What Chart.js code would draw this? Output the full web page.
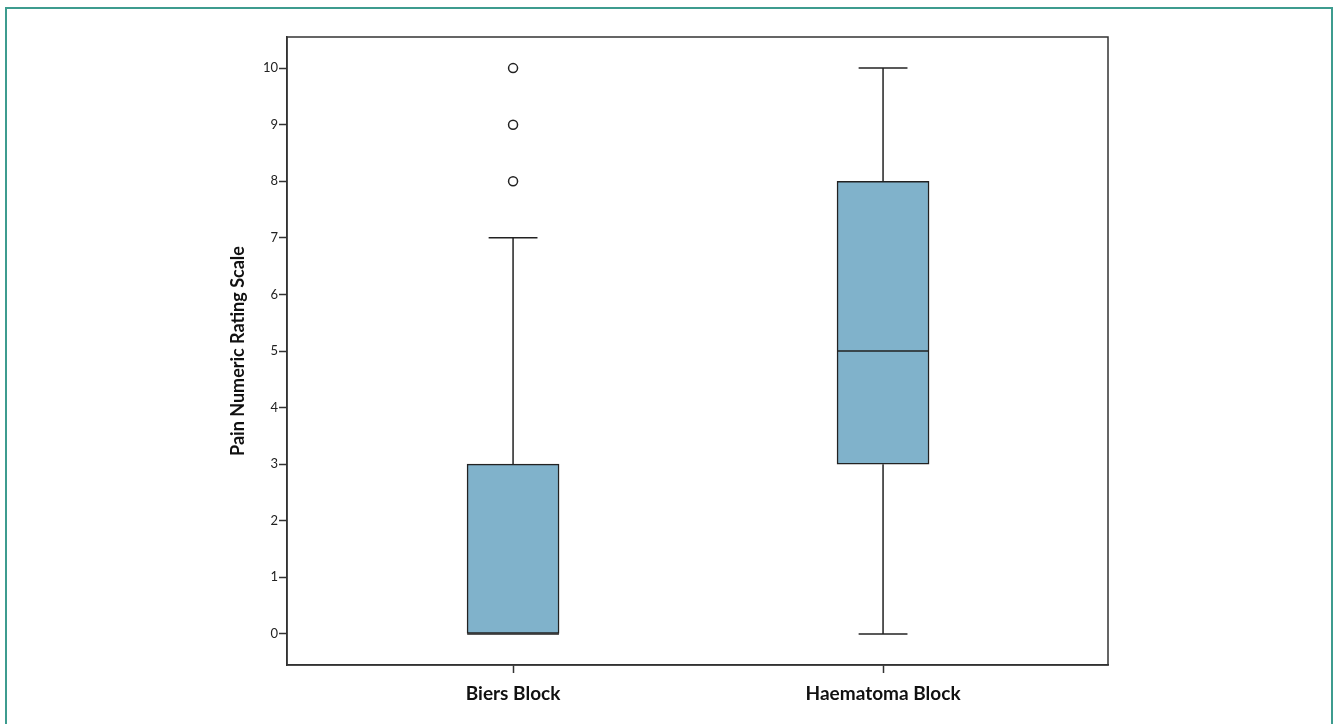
<!DOCTYPE html>
<html>
<head>
<meta charset="utf-8">
<script src="https://cdn.jsdelivr.net/npm/chart.js@4"></script>
<style>
  html, body { margin: 0; padding: 0; background: #fff; }
  #wrap { position: relative; width: 1338px; height: 724px; overflow: hidden; }
  #frame { position: absolute; left: 5px; top: 7px; width: 1328px; height: 740px; border: 2px solid #3d9c8f; box-sizing: border-box; }
  canvas { position: absolute; left: 0; top: 0; }
</style>
</head>
<body>
<div id="wrap">
  <div id="frame"></div>
  <canvas id="myChart" width="1338" height="724"></canvas>
</div>
<script>
// box plot summary per group
const categories = ['Biers Block', 'Haematoma Block'];
const whiskerLow = [0, 0];
const q1 = [0, 3];
const median = [0, 5];
const q3 = [3, 8];
const whiskerHigh = [7, 10];
const outliers = [[8, 9, 10], []];
const yTicks = [0, 1, 2, 3, 4, 5, 6, 7, 8, 9, 10];

const boxHalf = 0.124;   // half box width in x units
const capHalf = 0.066;   // half whisker cap width

function segment(x0, y0, x1, y1) {
    return {
        type: 'line',
        data: [{ x: x0, y: y0 }, { x: x1, y: y1 }],
        borderColor: '#222',
        borderWidth: 1.5,
        pointRadius: 0,
        fill: false,
        order: 2
    };
}

const datasets = [{
    type: 'bar',
    data: categories.map((c, i) => ({ x: i + 1, y: [q1[i], q3[i]] })),
    backgroundColor: '#80b2cb',
    borderColor: '#222',
    borderWidth: 1.5,
    borderSkipped: false,
    barThickness: 92,
    order: 3
}];

categories.forEach((c, i) => {
    const x = i + 1;
    if (whiskerHigh[i] > q3[i]) {
        datasets.push(segment(x, q3[i], x, whiskerHigh[i]));
        datasets.push(segment(x - capHalf, whiskerHigh[i], x + capHalf, whiskerHigh[i]));
    }
    if (whiskerLow[i] < q1[i]) {
        datasets.push(segment(x, q1[i], x, whiskerLow[i]));
        datasets.push(segment(x - capHalf, whiskerLow[i], x + capHalf, whiskerLow[i]));
    }
    datasets.push(segment(x - boxHalf, median[i], x + boxHalf, median[i]));
});

datasets.push({
    type: 'scatter',
    data: outliers.flatMap((list, i) => list.map(v => ({ x: i + 1, y: v }))),
    pointRadius: 4.5,
    pointBackgroundColor: '#fff',
    pointBorderColor: '#222',
    pointBorderWidth: 1.5,
    order: 1
});

const frameBox = {
    id: 'frameBox',
    afterDatasetsDraw(chart) {
        const a = chart.chartArea;
        const ctx = chart.ctx;
        ctx.save();
        ctx.strokeStyle = '#333';
        ctx.lineWidth = 1.5;
        ctx.strokeRect(a.left, a.top, a.right - a.left, a.bottom - a.top);
        ctx.restore();
    }
};

new Chart(document.getElementById('myChart').getContext('2d'), {
    data: { datasets: datasets },
    plugins: [frameBox],
    options: {
        responsive: false,
        animation: false,
        layout: { padding: { left: 227, right: 230, top: 37, bottom: 0 } },
        plugins: { legend: { display: false }, tooltip: { enabled: false } },
        scales: {
            x: {
                type: 'linear',
                offset: false,
                min: 0.389,
                max: 2.608,
                afterBuildTicks: (scale) => { scale.ticks = categories.map((c, i) => ({ value: i + 1 })); },
                afterFit: (scale) => { scale.height = 59; },
                ticks: {
                    callback: (v) => categories[v - 1],
                    color: '#111',
                    font: { family: 'Lato', size: 19, weight: 'bold' },
                    padding: 9,
                    maxRotation: 0
                },
                grid: { offset: false, drawOnChartArea: false, drawTicks: true, tickLength: 8, color: '#333', tickWidth: 1.5 },
                border: { color: '#333', width: 1.5 }
            },
            y: {
                type: 'linear',
                min: -0.55,
                max: 10.55,
                afterBuildTicks: (scale) => { scale.ticks = yTicks.map(v => ({ value: v })); },
                afterFit: (scale) => { scale.width = 60; },
                ticks: {
                    color: '#222',
                    font: { family: 'Lato', size: 13 },
                    padding: 1
                },
                grid: { drawOnChartArea: false, drawTicks: true, tickLength: 8, color: '#333', tickWidth: 1.5 },
                border: { color: '#333', width: 1.5 },
                title: {
                    display: true,
                    text: 'Pain Numeric Rating Scale',
                    color: '#111',
                    font: { family: 'Lato', size: 18, weight: 'bold' },
                    padding: 0
                }
            }
        }
    }
});
</script>
</body>
</html>
